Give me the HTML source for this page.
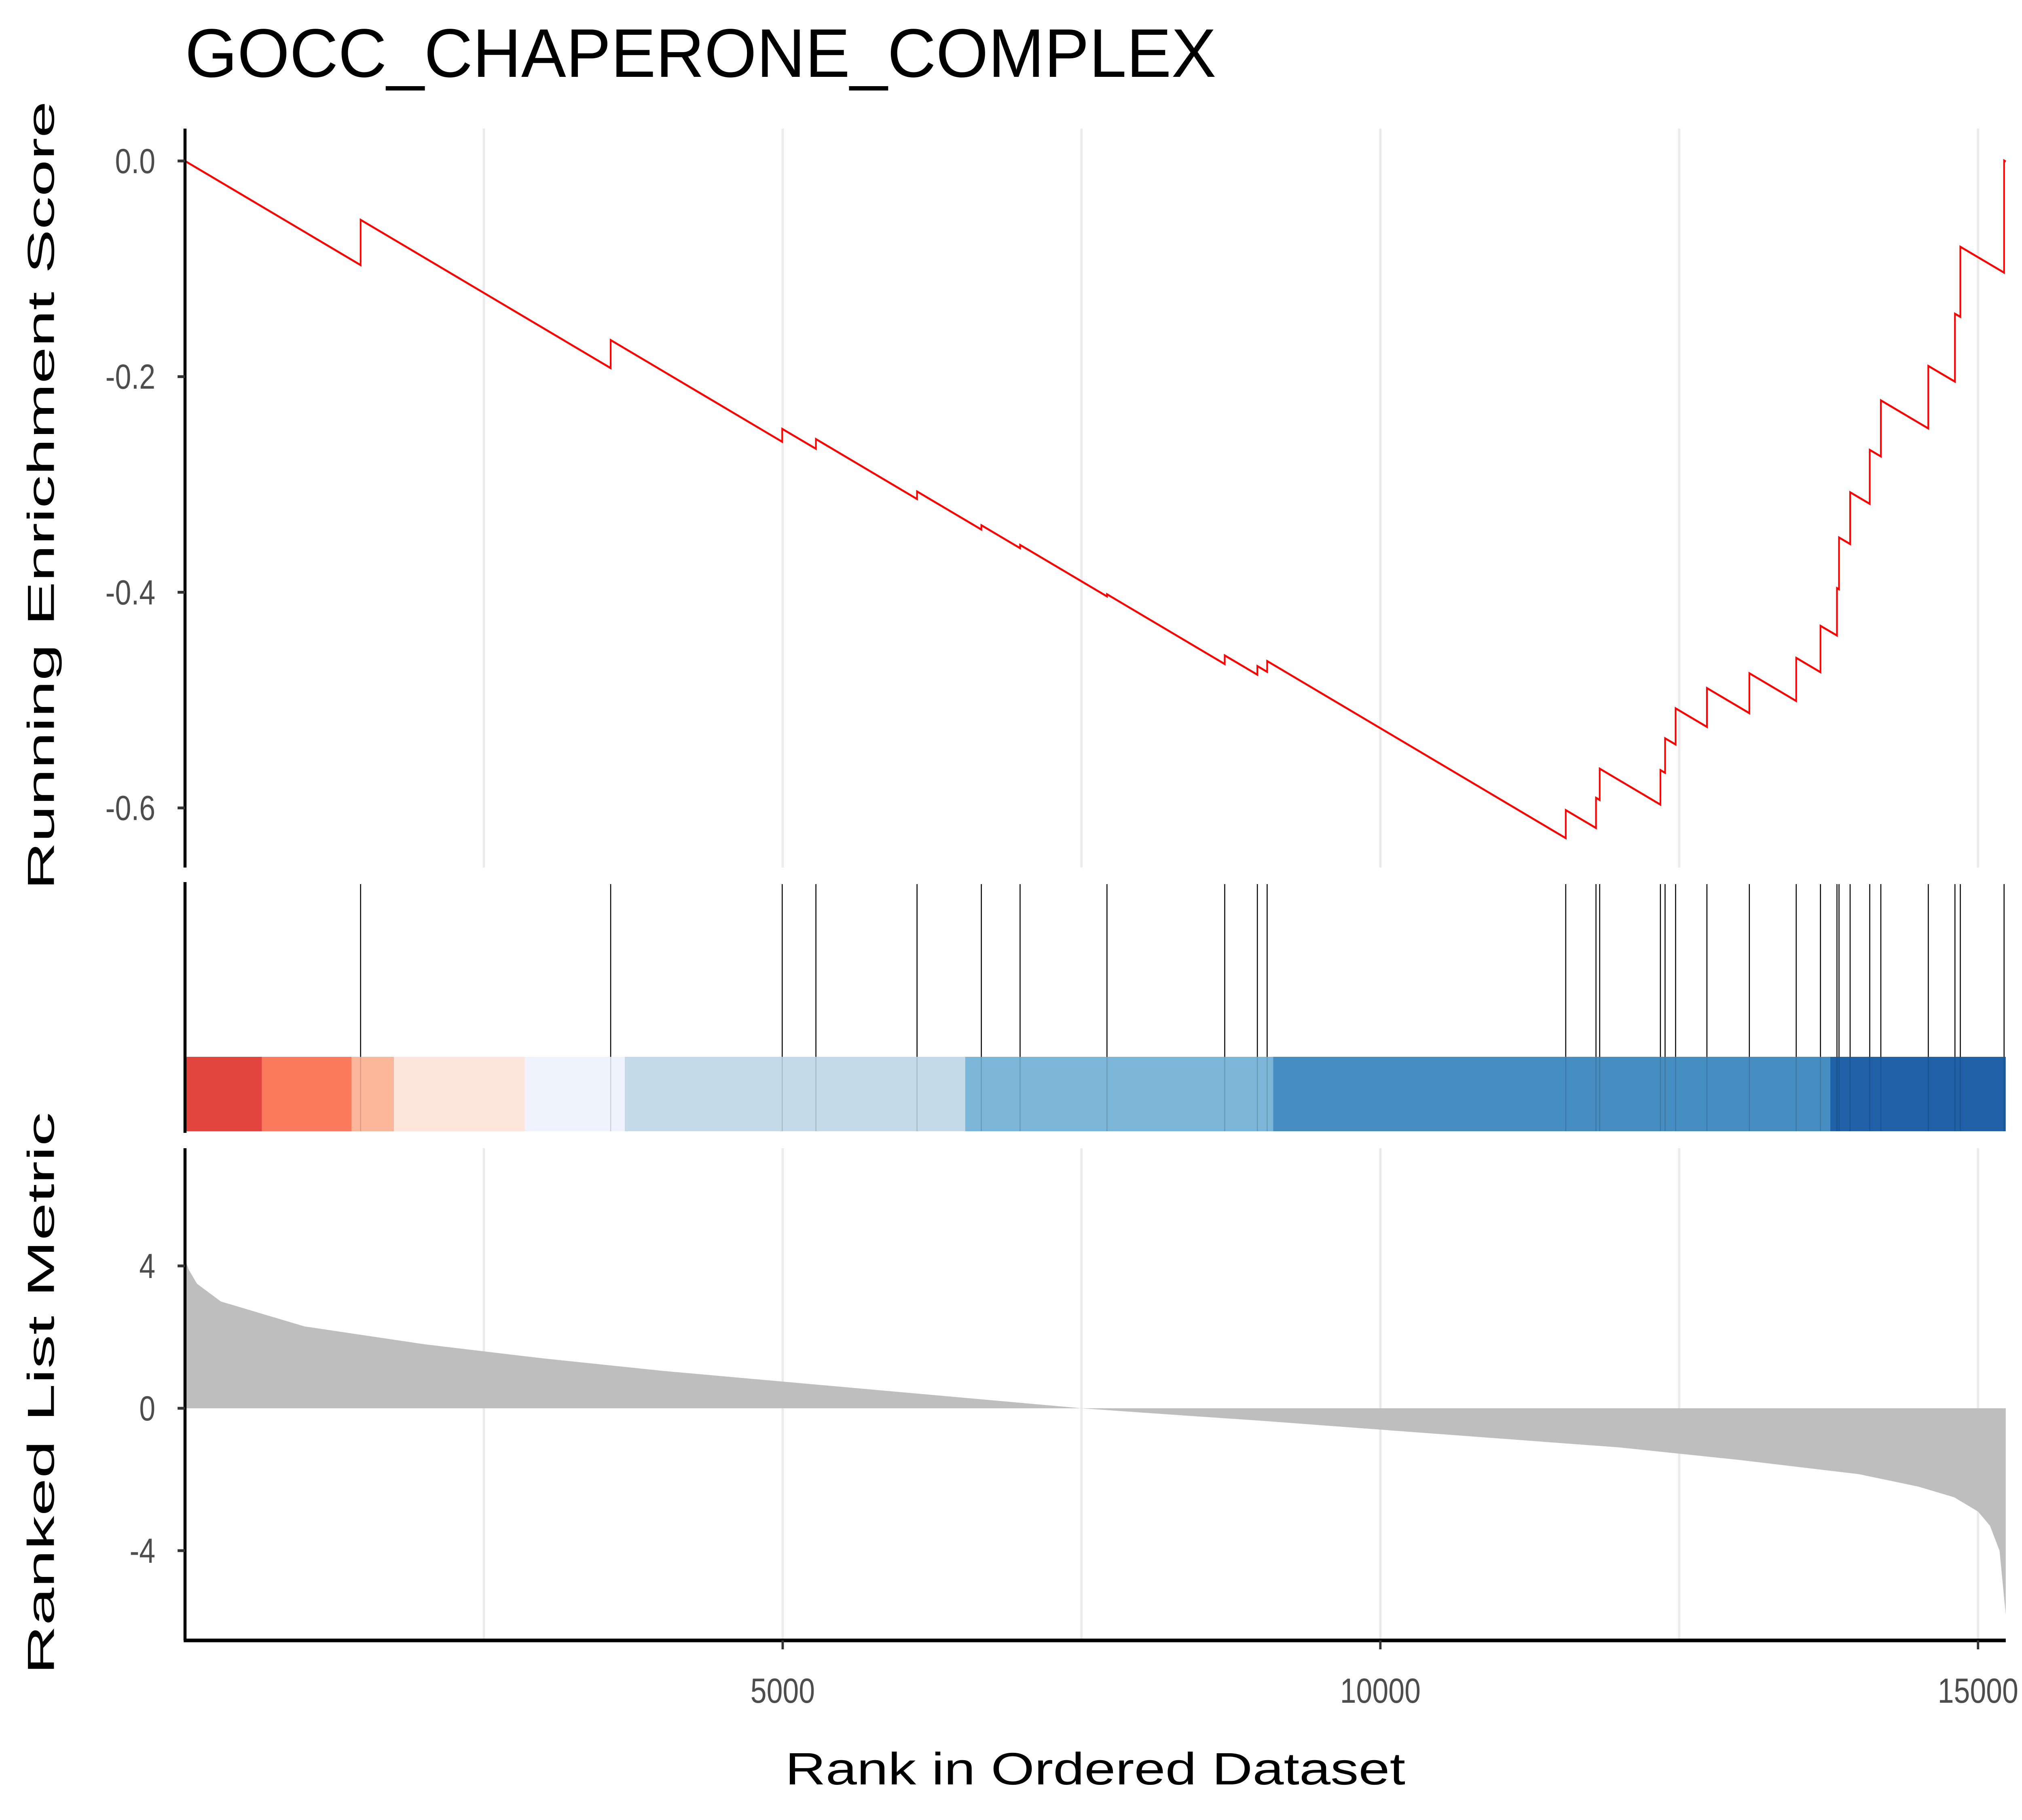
<!DOCTYPE html>
<html><head><meta charset="utf-8">
<style>html,body{margin:0;padding:0;background:#fff;overflow:hidden;width:100%;height:100%;}svg{display:block;width:100vw;height:100vh;}</style>
</head><body>
<svg id="chart" xmlns="http://www.w3.org/2000/svg" viewBox="0 0 6000 4500" preserveAspectRatio="none" font-family="Liberation Sans, Arial, sans-serif">
<rect width="6000" height="4500" fill="#fff"/>
<text x="549" y="190" font-size="170" fill="#000" textLength="3060" lengthAdjust="spacingAndGlyphs">GOCC_CHAPERONE_COMPLEX</text>
<g id="grid"></g>
<g id="metric"></g>
<g id="band"></g>
<g id="hits"></g>
<g id="es"></g>
<g id="axes"></g>
<text transform="translate(160,1225) rotate(-90)" text-anchor="middle" font-size="112" fill="#000" textLength="1950" lengthAdjust="spacingAndGlyphs">Running Enrichment Score</text>
<text transform="translate(160,3445) rotate(-90)" text-anchor="middle" font-size="112" fill="#000" textLength="1390" lengthAdjust="spacingAndGlyphs">Ranked List Metric</text>
<text x="3250" y="4412" text-anchor="middle" font-size="112" fill="#000" textLength="1840" lengthAdjust="spacingAndGlyphs">Rank in Ordered Dataset</text>
</svg>
<script>
const N = 15232;
const hitRanks = [1469,3561,4996,5278,6124,6662,6986,7713,8698,8971,9053,11551,11804,11835,12343,12382,12470,12732,13087,13479,13682,13820,13837,13930,14094,14187,14584,14807,14852,15218];
const hitJumps = [0.042,0.026,0.012,0.009,0.007,0.004,0.003,0.002,0.008,0.008,0.010,0.026,0.028,0.029,0.032,0.032,0.0335,0.036,0.037,0.040,0.043,0.044,0.048,0.048,0.050,0.052,0.058,0.063,0.065,0.104];
const metricRanks = [0,30,100,300,600,1000,1500,2000,3000,4000,5000,6000,7000,7500,8000,9000,10000,11000,12000,13000,14000,14500,14800,15000,15100,15180,15232];
const metricValues = [4.2,3.9,3.5,3.0,2.7,2.3,2.05,1.8,1.4,1.05,0.75,0.45,0.15,0.0,-0.12,-0.35,-0.6,-0.85,-1.1,-1.45,-1.85,-2.2,-2.5,-2.9,-3.3,-4.0,-5.8];
const bandStarts = [0,643,1393,1748,2845,3679,6527,9104,13764];
const bandColors = ["#E2453F","#FC7B5F","#FCB69A","#FEE6DC","#EFF3FD","#C4DAE8","#7BB5D8","#468DC2","#2061A7"];
const xTicks = [5000,10000,15000];
const esTicks = [0.0,-0.2,-0.4,-0.6];
const esTickLabels = ["0.0","-0.2","-0.4","-0.6"];
const metricTicks = [4,0,-4];
const metricTickLabels = ["4","0","-4"];
const gridRanks = [2500,5000,7500,10000,12500,15000];

const NS = "http://www.w3.org/2000/svg";
const X0 = 549, XS = 0.3547;
const x = r => X0 + r * XS;
const yES = v => 398 - v * 2666;
const yM = v => 3482 - v * 88;
const XR = x(N);
function mk(tag, attrs, parent){const e=document.createElementNS(NS,tag);for(const k in attrs)e.setAttribute(k,attrs[k]);document.getElementById(parent).appendChild(e);return e;}

gridRanks.forEach(r=>{
  let g=mk('line',{x1:x(r),x2:x(r),y1:318,y2:2145,stroke:'#ebebeb','stroke-width':7},'grid');
  
  
  g=mk('line',{x1:x(r),x2:x(r),y1:2839,y2:4056,stroke:'#ebebeb','stroke-width':7},'grid');
  
  
});

let d='M'+x(metricRanks[0])+','+yM(0);
metricRanks.forEach((r,i)=>{d+=' L'+x(r)+','+yM(metricValues[i]);});
d+=' L'+x(metricRanks[metricRanks.length-1])+','+yM(0)+' Z';
const area=mk('path',{d:d,fill:'#bebebe'},'metric');



bandStarts.forEach((s,i)=>{
  const e=(i<bandStarts.length-1)?bandStarts[i+1]:N;
  const r=mk('rect',{x:x(s),y:2613,width:x(e)-x(s),height:184,fill:bandColors[i]},'band');
  
  
});

hitRanks.forEach(r=>{
  const l=mk('line',{x1:x(r),x2:x(r),y1:2186,y2:2613,stroke:'#000','stroke-width':3},'hits');
  
  
  const l2=mk('line',{x1:x(r),x2:x(r),y1:2613,y2:2797,stroke:'#000','stroke-opacity':0.15,'stroke-width':3},'hits');
  
  
});

const Nh = hitRanks.length;
const step = 1/(N-Nh);
let es=0, prev=0, pd='M'+x(0)+','+yES(0);
hitRanks.forEach((r,i)=>{
  es -= (r-prev-1)*step;
  pd+=' L'+x(r)+','+yES(es);
  es += hitJumps[i];
  pd+=' L'+x(r)+','+yES(es);
  prev=r;
});
es -= (N-prev)*step;
pd+=' L'+x(N)+','+yES(es);
const line=mk('path',{d:pd,fill:'none',stroke:'#ff0000','stroke-width':5,'stroke-linejoin':'miter'},'es');



[[318,2145],[2181,2801],[2839,4056]].forEach(p=>{
  const a=mk('line',{x1:X0,x2:X0,y1:p[0],y2:p[1],stroke:'#000','stroke-width':9},'axes');
  
  
});
const xa=mk('line',{x1:X0-4,x2:XR,y1:4056,y2:4056,stroke:'#000','stroke-width':9},'axes');


esTicks.forEach((v,i)=>{
  const t=mk('line',{x1:X0-22,x2:X0,y1:yES(v),y2:yES(v),stroke:'#333','stroke-width':7},'axes');
  
  
  const tx=mk('text',{x:X0-88,y:yES(v)+30,'text-anchor':'end','font-size':86,fill:'#4d4d4d'},'axes');
  tx.textContent=esTickLabels[i];
  
  
});
metricTicks.forEach((v,i)=>{
  const t=mk('line',{x1:X0-22,x2:X0,y1:yM(v),y2:yM(v),stroke:'#333','stroke-width':7},'axes');
  
  
  const tx=mk('text',{x:X0-88,y:yM(v)+30,'text-anchor':'end','font-size':86,fill:'#4d4d4d'},'axes');
  tx.textContent=metricTickLabels[i];
  
  
});
xTicks.forEach(r=>{
  const t=mk('line',{x1:x(r),x2:x(r),y1:4056,y2:4078,stroke:'#333','stroke-width':7},'axes');
  
  
  const tx=mk('text',{x:x(r),y:4210,'text-anchor':'middle','font-size':86,fill:'#4d4d4d'},'axes');
  tx.textContent=String(r);
  
  
});
</script>
</body></html>
